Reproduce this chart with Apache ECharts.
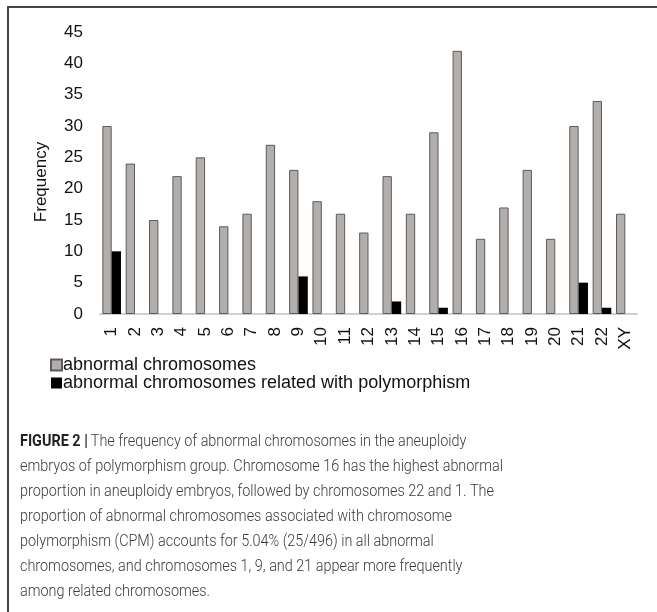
<!DOCTYPE html>
<html>
<head>
<meta charset="utf-8">
<script src="https://cdn.jsdelivr.net/npm/echarts@6/dist/echarts.min.js"></script>
<style>
  html, body { margin: 0; padding: 0; background: #fff; }
  #chart { width: 657px; height: 612px; }
</style>
</head>
<body>
<div id="chart"></div>
<script>
var chromosomes = ['1', '2', '3', '4', '5', '6', '7', '8', '9', '10', '11', '12',
    '13', '14', '15', '16', '17', '18', '19', '20', '21', '22', 'XY'];
var abnormal = [30, 24, 15, 22, 25, 14, 16, 27, 23, 18, 16, 13, 22, 16, 29, 42, 12, 17, 23, 12, 30, 34, 16];
var polymorphism = [10, 0, 0, 0, 0, 0, 0, 0, 6, 0, 0, 0, 2, 0, 1, 0, 0, 0, 0, 0, 5, 1, 0];
var yTicks = [0, 45, 5]; // min, max, interval

var captionLines = [
    'The frequency of abnormal chromosomes in the aneuploidy',
    'embryos of polymorphism group. Chromosome 16 has the highest abnormal',
    'proportion in aneuploidy embryos, followed by chromosomes 22 and 1. The',
    'proportion of abnormal chromosomes associated with chromosome',
    'polymorphism (CPM) accounts for 5.04% (25/496) in all abnormal',
    'chromosomes, and chromosomes 1, 9, and 21 appear more frequently',
    'among related chromosomes.'
];

var captionText = '{b|FIGURE 2 |} {n|' + captionLines[0] + '}';
for (var i = 1; i < captionLines.length; i++) {
    captionText += '\n{n|' + captionLines[i] + '}';
}

var myChart = echarts.init(document.getElementById('chart'));
myChart.setOption({
    backgroundColor: '#fff',
    animation: false,
    textStyle: { fontFamily: 'Liberation Sans, Arial, sans-serif' },
    grid: { left: 100, right: 20, top: 32, bottom: 298 },
    legend: {
        orient: 'vertical',
        left: 45,
        top: 351,
        itemWidth: 11,
        itemHeight: 11,
        itemGap: 0,
        icon: 'rect',
        textStyle: { fontSize: 18, color: '#111', padding: [0, 0, 0, -4] },
        data: ['abnormal chromosomes', 'abnormal chromosomes related with polymorphism']
    },
    xAxis: {
        type: 'category',
        data: chromosomes,
        axisLine: { lineStyle: { color: '#d0d0d0', width: 2 } },
        axisTick: { show: false },
        axisLabel: { rotate: 90, fontSize: 17, color: '#111', margin: 13, interval: 0 }
    },
    yAxis: {
        type: 'value',
        min: yTicks[0],
        max: yTicks[1],
        interval: yTicks[2],
        name: 'Frequency',
        nameLocation: 'middle',
        nameGap: 50,
        nameTextStyle: { fontSize: 17, color: '#111', padding: [0, 0, 0, -18] },
        axisLine: { show: false },
        axisTick: { show: false },
        splitLine: { show: false },
        axisLabel: { fontSize: 17, color: '#111', margin: 17 }
    },
    series: [
        {
            name: 'abnormal chromosomes',
            type: 'bar',
            data: abnormal,
            barWidth: '40%',
            barGap: '0%',
            itemStyle: { color: '#b2aeac', borderColor: '#5e5a5a', borderWidth: 1 }
        },
        {
            name: 'abnormal chromosomes related with polymorphism',
            type: 'bar',
            data: polymorphism,
            barWidth: '40%',
            itemStyle: { color: '#000', borderWidth: 0 }
        }
    ],
    graphic: [
        {
            type: 'polyline',
            shape: { points: [[8, 612], [8, 7], [657, 7]] },
            style: { stroke: '#444', lineWidth: 2, fill: null }
        },
        {
            type: 'text',
            x: 20,
            y: 429,
            scaleX: 0.9,
            style: {
                text: captionText,
                rich: {
                    b: { fontSize: 16, fontWeight: 'bold', fill: '#222', lineHeight: 25,
                        fontFamily: 'Roboto, sans-serif' },
                    n: { fontSize: 16, fontWeight: 300, fill: '#3a3a3a', lineHeight: 25,
                        fontFamily: 'Roboto, sans-serif' }
                }
            }
        }
    ]
});
</script>
</body>
</html>
